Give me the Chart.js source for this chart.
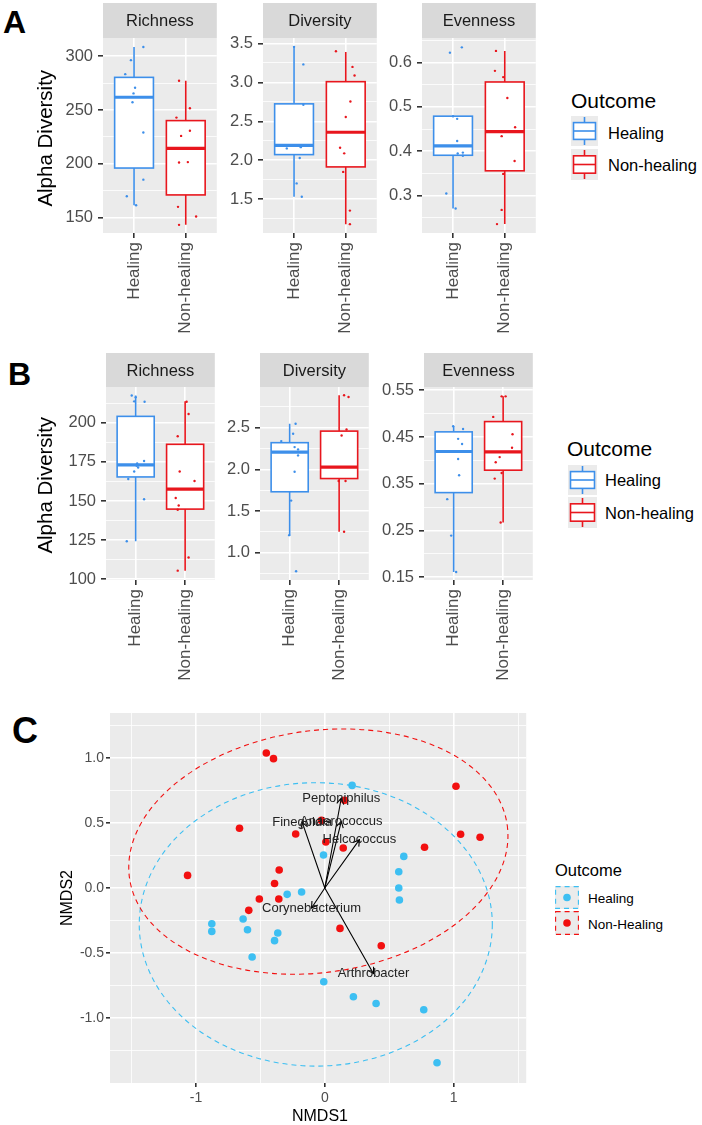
<!DOCTYPE html>
<html>
<head>
<meta charset="utf-8">
<script src="https://cdn.jsdelivr.net/npm/chart.js@4.4.1/dist/chart.umd.min.js"></script>
<style>
  body { margin: 0; background: #fff; width: 702px; height: 1125px; position: relative; overflow: hidden;
         font-family: "Liberation Sans", Arial, sans-serif; }
  canvas { position: absolute; }
  .t { position: absolute; white-space: nowrap; line-height: 1; color: #000; }
  .key { position: absolute; }
</style>
</head>
<body>
<script>
// ---------- data: panel A ----------
const groups = ['Healing', 'Non-healing'];

const aRichH    = [308.6, 296.3, 283.3, 270.6, 265.4, 257.1, 229.0, 185.2, 169.7, 161.4];
const aRichHJit = [0.18, -0.06, -0.17, 0.02, -0.01, -0.03, 0.18, 0.18, -0.14, 0.04];
const aRichN    = [277.2, 251.6, 242.9, 230.6, 225.9, 201.2, 201.5, 159.9, 151.0, 143.2];
const aRichNJit = [-0.13, 0.08, -0.18, 0.08, -0.09, -0.13, 0.04, -0.15, 0.2, -0.13];
const aRichHBox = [161.4, 196.0, 261.8, 280.3, 308.6];
const aRichNBox = [143.2, 171.0, 214.2, 240.1, 277.2];

const aDivH    = [3.457, 3.232, 2.713, 2.153, 2.169, 2.029, 1.703, 1.532];
const aDivHJit = [0.0, 0.18, 0.18, -0.14, 0.13, 0.11, 0.05, 0.15];
const aDivN    = [3.40, 3.20, 3.09, 2.755, 2.556, 2.162, 2.089, 1.851, 1.354, 1.18];
const aDivNJit = [-0.19, 0.13, 0.17, 0.09, 0.0, -0.11, -0.03, -0.05, 0.08, 0.08];
const aDivHBox = [1.532, 2.073, 2.191, 2.725, 3.457];
const aDivNBox = [1.18, 1.915, 2.36, 3.01, 3.39];

const aEvenH    = [0.622, 0.634, 0.479, 0.473, 0.423, 0.395, 0.397, 0.390, 0.305, 0.271];
const aEvenHJit = [-0.06, 0.17, 0.0, 0.08, 0.08, 0.09, 0.19, 0.19, -0.13, 0.05];
const aEvenN    = [0.626, 0.581, 0.567, 0.520, 0.454, 0.434, 0.378, 0.349, 0.268, 0.236];
const aEvenNJit = [-0.17, -0.19, -0.03, 0.05, 0.2, -0.06, 0.19, -0.03, -0.06, -0.15];
const aEvenHBox = [0.271, 0.391, 0.412, 0.479, 0.479];
const aEvenNBox = [0.236, 0.356, 0.444, 0.556, 0.626];

// ---------- data: panel B ----------
const bRichH    = [217.6, 216.5, 213.8, 213.6, 175.6, 174.0, 172.5, 171.4, 168.9, 164.1, 151.1, 124.2];
const bRichHJit = [-0.08, 0.0, -0.03, 0.18, 0.17, 0.03, 0.02, 0.05, -0.03, -0.15, 0.17, -0.18];
const bRichN    = [213.6, 205.7, 191.5, 168.9, 162.8, 151.9, 147.1, 144.4, 113.8, 105.4];
const bRichNJit = [0.03, 0.07, -0.15, -0.11, 0.19, -0.19, -0.13, -0.15, 0.07, -0.15];
const bRichHBox = [124.2, 165.4, 173.1, 204.2, 217.6];
const bRichNBox = [105.4, 144.8, 157.6, 186.3, 213.8];

const bDivH    = [2.548, 2.428, 2.340, 2.268, 2.240, 2.168, 1.972, 1.625, 1.210, 0.776];
const bDivHJit = [0.12, 0.07, -0.17, 0.1, 0.17, 0.17, 0.1, 0.03, -0.01, 0.13];
const bDivN    = [2.89, 2.87, 2.48, 2.408, 1.86, 1.86, 1.25];
const bDivNJit = [0.1, 0.19, 0.15, 0.05, -0.01, 0.13, 0.1];
const bDivHBox = [1.210, 1.731, 2.208, 2.321, 2.548];
const bDivNBox = [1.25, 1.89, 2.028, 2.46, 2.89];

const bEvenH    = [0.473, 0.467, 0.446, 0.435, 0.403, 0.368, 0.317, 0.239, 0.161];
const bEvenHJit = [-0.01, 0.19, 0.09, 0.17, 0.09, 0.11, -0.13, -0.05, 0.05];
const bEvenN    = [0.537, 0.537, 0.493, 0.456, 0.427, 0.407, 0.396, 0.373, 0.361, 0.267];
const bEvenNJit = [-0.03, 0.05, -0.2, 0.19, 0.18, -0.07, -0.15, -0.03, -0.17, -0.05];
const bEvenHBox = [0.161, 0.331, 0.419, 0.461, 0.473];
const bEvenNBox = [0.267, 0.379, 0.418, 0.483, 0.537];

// ---------- tick values / labels ----------
const aRichTicks = [150, 200, 250, 300], aRichMinor = [175, 225, 275];
const aDivTicks  = [1.5, 2.0, 2.5, 3.0, 3.5], aDivMinor = [1.25, 1.75, 2.25, 2.75, 3.25];
const aEvenTicks = [0.3, 0.4, 0.5, 0.6], aEvenMinor = [0.25, 0.35, 0.45, 0.55, 0.65];
const bRichTicks = [100, 125, 150, 175, 200], bRichMinor = [112.5, 137.5, 162.5, 187.5, 212.5];
const bDivTicks  = [1.0, 1.5, 2.0, 2.5], bDivMinor = [0.75, 1.25, 1.75, 2.25, 2.75];
const bEvenTicks = [0.15, 0.25, 0.35, 0.45, 0.55], bEvenMinor = [0.2, 0.3, 0.4, 0.5];

// ---------- data: panel C (NMDS) ----------
const healX = [0.212, -0.01, -0.292, -0.18, -0.634, -0.877, -0.877, -0.6, -0.365, -0.39,
               -0.564, 0.613, 0.574, 0.574, 0.579, -0.008, 0.222, 0.398, 0.768, 0.871];
const healY = [0.789, 0.254, -0.049, -0.031, -0.238, -0.275, -0.334, -0.321, -0.346, -0.405,
               -0.531, 0.243, 0.125, 0.0, -0.092, -0.721, -0.836, -0.888, -0.936, -1.344];
const nonX  = [-0.454, -0.398, 0.154, -0.662, -0.026, -0.226, 0.008, 0.143, -1.065, -0.354,
               -0.39, -0.508, -0.357, -0.59, 0.118, 1.018, 1.054, 1.205, 0.774, 0.438];
const nonY  = [1.038, 0.995, 0.674, 0.46, 0.52, 0.415, 0.354, 0.308, 0.097, 0.138,
               0.035, -0.085, -0.085, -0.172, -0.311, 0.782, 0.413, 0.39, 0.313, -0.444];

const arrowNames = ['Peptoniphilus', 'Anaerococcus', 'Finegoldia', 'Helcococcus', 'Corynebacterium', 'Arthrobacter'];
const arrowX = [0.128, 0.128, -0.175, 0.269, -0.103, 0.378];
const arrowY = [0.692, 0.512, 0.505, 0.372, -0.154, -0.659];

// ellipses: [Healing, Non-Healing]
const ellCx  = [-0.07, -0.05];
const ellCy  = [-0.28, 0.28];
const ellRx  = [1.37, 1.48];
const ellRy  = [1.09, 0.93];
const ellRot = [0, 8];

const cXTicks = [-1, 0, 1], cXLabels = ['-1', '0', '1'], cXMinor = [-1.5, -0.5, 0.5, 1.5];
const cYTicks = [-1, -0.5, 0, 0.5, 1], cYLabels = ['-1.0', '-0.5', '0.0', '0.5', '1.0'];
const cYMinor = [-1.25, -0.75, -0.25, 0.25, 0.75, 1.25];

// ---------- styling ----------
const BLUE = '#3D8FEA', RED = '#E8161D';
const CYAN = '#3DBFF2', CRED = '#F21010';
const FONT = '"Liberation Sans", Arial, sans-serif';
const YAXIS_W = 50;
Chart.defaults.font.family = FONT;

function fmt(ticks, dec) { return ticks.map(v => v.toFixed(dec)); }

function addText(txt, left, top, size, extra) {
  const d = document.createElement('div');
  d.className = 't';
  d.textContent = txt;
  d.style.left = left + 'px';
  d.style.top = top + 'px';
  d.style.fontSize = size + 'px';
  Object.assign(d.style, extra || {});
  document.body.appendChild(d);
  return d;
}
function addVText(txt, cx, cy, size) {
  const w = 300;
  addText(txt, cx - w / 2, cy - size / 2, size, {
    width: w + 'px', textAlign: 'center', transform: 'rotate(-90deg)', transformOrigin: '50% 50%'
  });
}

function axis(min, max, majors, labels, minors, o) {
  const all = majors.concat(minors).sort((a, b) => a - b);
  const isMajor = c => c.tick && majors.indexOf(c.tick.value) >= 0;
  return {
    type: 'linear', min: min, max: max,
    afterBuildTicks: s => { s.ticks = all.map(v => ({ value: v })); },
    afterFit: s => { if (o.w) s.width = o.w; if (o.h) s.height = o.h; },
    ticks: {
      autoSkip: false, color: '#4D4D4D', font: { size: o.size }, padding: o.pad,
      minRotation: o.rot || 0, maxRotation: o.rot || 0,
      callback: v => { const i = majors.indexOf(v); return i < 0 ? '' : labels[i]; }
    },
    grid: {
      color: '#FFFFFF', lineWidth: c => isMajor(c) ? 1.6 : 0.8,
      tickColor: c => isMajor(c) ? '#333333' : 'rgba(0,0,0,0)', tickLength: o.tl
    },
    border: { display: false }
  };
}

function facetPlugin(strip, boxes) {
  return {
    id: 'facet',
    beforeDraw(chart) {
      const { ctx, chartArea: a } = chart;
      ctx.save();
      ctx.fillStyle = '#EBEBEB';
      ctx.fillRect(a.left, a.top, a.right - a.left, a.bottom - a.top);
      ctx.fillStyle = '#D9D9D9';
      ctx.fillRect(a.left, 0, a.right - a.left, a.top);
      ctx.fillStyle = '#1A1A1A';
      ctx.font = '16.5px ' + FONT;
      ctx.textAlign = 'center';
      ctx.textBaseline = 'middle';
      ctx.fillText(strip, (a.left + a.right) / 2, a.top / 2 + 1);
      ctx.restore();
    },
    beforeDatasetsDraw(chart) {
      const { ctx, scales: { x, y } } = chart;
      const cols = [BLUE, RED];
      ctx.save();
      boxes.forEach((b, i) => {
        const cx = x.getPixelForValue(i + 1);
        const half = x.getPixelForValue(i + 1.375) - cx;
        const [lo, q1, med, q3, hi] = b.map(v => y.getPixelForValue(v));
        ctx.strokeStyle = cols[i];
        ctx.lineWidth = 1.6;
        ctx.beginPath();
        ctx.moveTo(cx, q3); ctx.lineTo(cx, hi);
        ctx.moveTo(cx, q1); ctx.lineTo(cx, lo);
        ctx.stroke();
        ctx.fillStyle = '#FFFFFF';
        ctx.fillRect(cx - half, q3, 2 * half, q1 - q3);
        ctx.strokeRect(cx - half, q3, 2 * half, q1 - q3);
        ctx.lineWidth = 3.2;
        ctx.beginPath();
        ctx.moveTo(cx - half, med); ctx.lineTo(cx + half, med);
        ctx.stroke();
      });
      ctx.restore();
    }
  };
}

function pts(jit, vals, pos) { return vals.map((v, i) => ({ x: pos + jit[i], y: v })); }

function facet(f, g) {
  const cv = document.createElement('canvas');
  const w = YAXIS_W + g.width, h = g.stripH + g.plotH + g.xH;
  cv.width = w; cv.height = h;
  cv.style.left = (g.left - YAXIS_W) + 'px';
  cv.style.top = g.top + 'px';
  cv.style.width = w + 'px'; cv.style.height = h + 'px';
  document.body.appendChild(cv);
  new Chart(cv.getContext('2d'), {
    type: 'scatter',
    data: {
      datasets: [
        { data: pts(f.hJit, f.h, 1), backgroundColor: BLUE, pointRadius: 1.2, borderWidth: 0, pointHoverRadius: 0 },
        { data: pts(f.nJit, f.n, 2), backgroundColor: RED, pointRadius: 1.2, borderWidth: 0, pointHoverRadius: 0 }
      ]
    },
    options: {
      responsive: false, animation: false, events: [],
      layout: { padding: { top: g.stripH, left: 0, right: 0, bottom: 0 } },
      plugins: { legend: { display: false }, tooltip: { enabled: false } },
      scales: {
        x: {
          type: 'linear', min: 0.4, max: 2.6,
          afterBuildTicks: s => { s.ticks = [{ value: 1 }, { value: 2 }]; },
          afterFit: s => { s.height = g.xH; },
          ticks: { autoSkip: false, minRotation: 90, maxRotation: 90, color: '#4D4D4D',
                   font: { size: 17 }, padding: 4, callback: v => groups[v - 1] },
          grid: { color: '#FFFFFF', lineWidth: 1.6, tickColor: '#333333', tickLength: 5 },
          border: { display: false }
        },
        y: axis(f.yMin, f.yMax, f.ticks, f.labels, f.minor, { w: YAXIS_W, size: 16.5, pad: 5, tl: 5 })
      }
    },
    plugins: [facetPlugin(f.strip, f.boxes)]
  });
}

// ---------- panels A and B ----------
const facetsA = [
  { strip: 'Richness', yMin: 135.6, yMax: 316.9, ticks: aRichTicks, labels: fmt(aRichTicks, 0), minor: aRichMinor,
    h: aRichH, hJit: aRichHJit, n: aRichN, nJit: aRichNJit, boxes: [aRichHBox, aRichNBox] },
  { strip: 'Diversity', yMin: 1.066, yMax: 3.571, ticks: aDivTicks, labels: fmt(aDivTicks, 1), minor: aDivMinor,
    h: aDivH, hJit: aDivHJit, n: aDivN, nJit: aDivNJit, boxes: [aDivHBox, aDivNBox] },
  { strip: 'Evenness', yMin: 0.216, yMax: 0.655, ticks: aEvenTicks, labels: fmt(aEvenTicks, 1), minor: aEvenMinor,
    h: aEvenH, hJit: aEvenHJit, n: aEvenN, nJit: aEvenNJit, boxes: [aEvenHBox, aEvenNBox] }
];
const facetsB = [
  { strip: 'Richness', yMin: 99.4, yMax: 223.0, ticks: bRichTicks, labels: fmt(bRichTicks, 0), minor: bRichMinor,
    h: bRichH, hJit: bRichHJit, n: bRichN, nJit: bRichNJit, boxes: [bRichHBox, bRichNBox] },
  { strip: 'Diversity', yMin: 0.671, yMax: 2.99, ticks: bDivTicks, labels: fmt(bDivTicks, 1), minor: bDivMinor,
    h: bDivH, hJit: bDivHJit, n: bDivN, nJit: bDivNJit, boxes: [bDivHBox, bDivNBox] },
  { strip: 'Evenness', yMin: 0.144, yMax: 0.557, ticks: bEvenTicks, labels: fmt(bEvenTicks, 2), minor: bEvenMinor,
    h: bEvenH, hJit: bEvenHJit, n: bEvenN, nJit: bEvenNJit, boxes: [bEvenHBox, bEvenNBox] }
];
const leftsA = [103, 263, 422], leftsB = [106, 260, 424];
facetsA.forEach((f, i) => facet(f, { left: leftsA[i], top: 3, width: 115, stripH: 35, plotH: 195, xH: 110 }));
facetsB.forEach((f, i) => facet(f, { left: leftsB[i], top: 353, width: 110, stripH: 34, plotH: 193, xH: 110 }));

// ---------- panel C ----------
const nmdsPlugin = {
  id: 'nmds',
  beforeDraw(chart) {
    const { ctx, chartArea: a } = chart;
    ctx.save();
    ctx.fillStyle = '#EBEBEB';
    ctx.fillRect(a.left, a.top, a.right - a.left, a.bottom - a.top);
    ctx.restore();
  },
  beforeDatasetsDraw(chart) {
    const { ctx, chartArea: a, scales: { x, y } } = chart;
    const cols = [CYAN, CRED];
    ctx.save();
    ctx.beginPath(); ctx.rect(a.left, a.top, a.right - a.left, a.bottom - a.top); ctx.clip();
    ctx.setLineDash([5, 4]);
    ctx.lineWidth = 1.1;
    for (let i = 0; i < 2; i++) {
      const px = x.getPixelForValue(ellCx[i]), py = y.getPixelForValue(ellCy[i]);
      const rx = Math.abs(x.getPixelForValue(ellCx[i] + ellRx[i]) - px);
      const ry = Math.abs(y.getPixelForValue(ellCy[i] + ellRy[i]) - py);
      ctx.strokeStyle = cols[i];
      ctx.beginPath();
      ctx.ellipse(px, py, rx, ry, -ellRot[i] * Math.PI / 180, 0, 2 * Math.PI);
      ctx.stroke();
    }
    ctx.restore();
  },
  afterDatasetsDraw(chart) {
    const { ctx, scales: { x, y } } = chart;
    const ox = x.getPixelForValue(0), oy = y.getPixelForValue(0);
    ctx.save();
    ctx.strokeStyle = '#000';
    ctx.lineWidth = 1.1;
    arrowNames.forEach((nm, i) => {
      const tx = x.getPixelForValue(arrowX[i]), ty = y.getPixelForValue(arrowY[i]);
      const ang = Math.atan2(ty - oy, tx - ox), L = 7, th = Math.PI / 6;
      ctx.beginPath();
      ctx.moveTo(ox, oy); ctx.lineTo(tx, ty);
      ctx.moveTo(tx - L * Math.cos(ang - th), ty - L * Math.sin(ang - th));
      ctx.lineTo(tx, ty);
      ctx.lineTo(tx - L * Math.cos(ang + th), ty - L * Math.sin(ang + th));
      ctx.stroke();
    });
    ctx.fillStyle = '#222';
    ctx.font = '13px ' + FONT;
    ctx.textAlign = 'center';
    ctx.textBaseline = 'middle';
    arrowNames.forEach((nm, i) => {
      ctx.fillText(nm, x.getPixelForValue(arrowX[i]), y.getPixelForValue(arrowY[i]));
    });
    ctx.restore();
  }
};

(function () {
  const cv = document.createElement('canvas');
  const left = 40, top = 700, w = 490, h = 415;
  cv.width = w; cv.height = h;
  cv.style.left = left + 'px'; cv.style.top = top + 'px';
  cv.style.width = w + 'px'; cv.style.height = h + 'px';
  document.body.appendChild(cv);
  new Chart(cv.getContext('2d'), {
    type: 'scatter',
    data: {
      datasets: [
        { label: 'Healing', data: healX.map((v, i) => ({ x: v, y: healY[i] })), backgroundColor: CYAN,
          pointRadius: 3.8, borderWidth: 0, pointHoverRadius: 0 },
        { label: 'Non-Healing', data: nonX.map((v, i) => ({ x: v, y: nonY[i] })), backgroundColor: CRED,
          pointRadius: 3.8, borderWidth: 0, pointHoverRadius: 0 }
      ]
    },
    options: {
      responsive: false, animation: false, events: [],
      layout: { padding: { top: 13, left: 0, right: 0, bottom: 0 } },
      plugins: { legend: { display: false }, tooltip: { enabled: false } },
      scales: {
        x: axis(-1.667, 1.563, cXTicks, cXLabels, cXMinor, { h: 32, size: 14, pad: 3, tl: 4 }),
        y: axis(-1.5, 1.346, cYTicks, cYLabels, cYMinor, { w: 70, size: 14, pad: 2, tl: 4 })
      }
    },
    plugins: [nmdsPlugin]
  });
})();

// ---------- titles, letters, legends ----------
addText('A', 3, 6, 32, { fontWeight: 'bold' });
addText('B', 8, 358, 32, { fontWeight: 'bold' });
addText('C', 12, 713, 36, { fontWeight: 'bold' });
addVText('Alpha Diversity', 45, 138, 20.5);
addVText('Alpha Diversity', 45, 485, 20.5);
addVText('NMDS2', 66.7, 898, 16);
addText('NMDS1', 220, 1108, 16, { width: '200px', textAlign: 'center' });

function boxKey(left, top, w, h, col) {
  const s = `<svg class="key" style="left:${left}px;top:${top}px" width="${w}" height="${h}">
    <rect x="0" y="0" width="${w}" height="${h}" fill="#EBEBEB"/>
    <line x1="${w / 2}" y1="1" x2="${w / 2}" y2="${h - 1}" stroke="${col}" stroke-width="1.6"/>
    <rect x="2.5" y="${h * 0.22}" width="${w - 5}" height="${h * 0.56}" fill="#fff" stroke="${col}" stroke-width="1.6"/>
    <line x1="2.5" y1="${h / 2}" x2="${w - 2.5}" y2="${h / 2}" stroke="${col}" stroke-width="1.6"/>
  </svg>`;
  document.body.insertAdjacentHTML('beforeend', s);
}
function dotKey(left, top, w, h, col) {
  const s = `<svg class="key" style="left:${left}px;top:${top}px" width="${w}" height="${h}">
    <rect x="0" y="0" width="${w}" height="${h}" fill="#EBEBEB"/>
    <rect x="0.6" y="0.6" width="${w - 1.2}" height="${h - 1.2}" fill="none" stroke="${col}" stroke-width="1.1" stroke-dasharray="5 4"/>
    <circle cx="${w / 2}" cy="${h / 2}" r="3.8" fill="${col}"/>
  </svg>`;
  document.body.insertAdjacentHTML('beforeend', s);
}

// legend A
addText('Outcome', 571, 90, 21);
boxKey(571, 116, 27, 30, BLUE);
boxKey(571, 149, 27, 31, RED);
addText(groups[0], 608, 124.5, 16.5);
addText(groups[1], 608, 157, 16.5);
// legend B
addText('Outcome', 567, 438, 21);
boxKey(568, 465, 29, 30, BLUE);
boxKey(568, 497, 29, 31, RED);
addText(groups[0], 605, 472, 16.5);
addText(groups[1], 605, 504.5, 16.5);
// legend C
addText('Outcome', 555, 862, 16.5);
dotKey(555, 886, 24, 23, CYAN);
dotKey(555, 911, 24, 24, CRED);
addText('Healing', 588, 892, 13.5);
addText('Non-Healing', 588, 917.5, 13.5);
</script>
</body>
</html>
